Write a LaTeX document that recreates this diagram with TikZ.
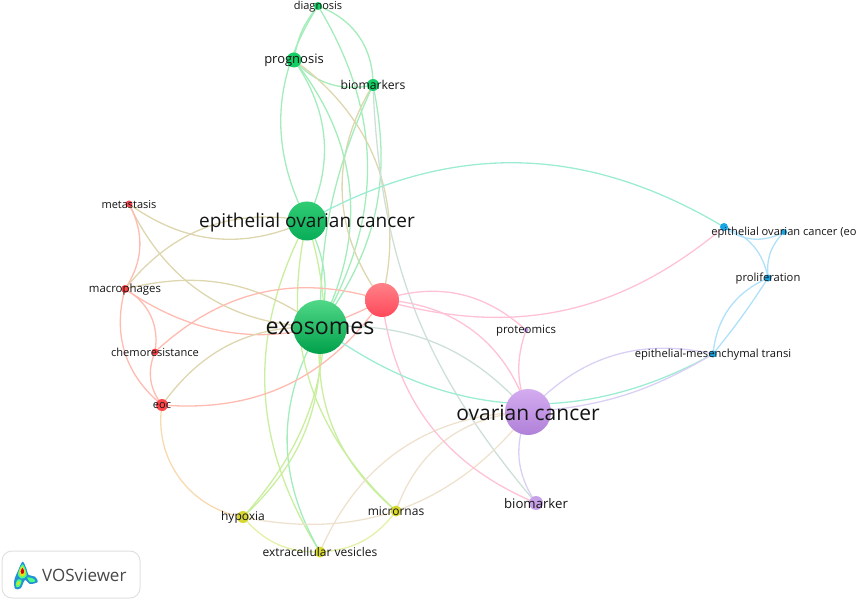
\documentclass[tikz,border=0pt]{standalone}
\usepackage{fontspec}
\setmainfont{Open Sans}
\usetikzlibrary{backgrounds}

% link colours
\definecolor{lgreen}{HTML}{A2EDBA}
\definecolor{lred}{HTML}{FFBBB0}
\definecolor{lolive}{HTML}{DED6AE}
\definecolor{lteal}{HTML}{9CECD4}
\definecolor{lblue}{HTML}{B0E1FA}
\definecolor{lpink}{HTML}{FFC2D4}
\definecolor{llav}{HTML}{DAD0F5}
\definecolor{lyellow}{HTML}{E3F1A6}
\definecolor{lsand}{HTML}{EEE2CE}
\definecolor{lorange}{HTML}{F8DAB0}
\definecolor{lgrey}{HTML}{CDE0D8}
\definecolor{llime}{HTML}{C9EE9E}

\tikzset{
    term/.style={circle, inner sep=0, minimum size=#1},
    lab/.style={inner sep=0, yshift={-(#1-8)*0.1pt}, text=black!92, font=\fontsize{#1}{#1}\selectfont},
    link/.style={line width=1.3pt},
    grn/.style={fill={rgb,255:red,20;green,205;blue,100}},
    rdd/.style={fill={rgb,255:red,255;green,70;blue,75}},
    blu/.style={fill={rgb,255:red,25;green,165;blue,230}},
    yel/.style={fill={rgb,255:red,216;green,216;blue,50}},
    pur/.style={fill={rgb,255:red,200;green,160;blue,232}},
}

\begin{document}
\begin{tikzpicture}[x=1pt, y=-1pt]
\useasboundingbox (0,0) rectangle (858,601);

% Green cluster
\node[term=8, grn] (diagnosis) at (318,6) {};
\node[term=15, grn] (prognosis) at (294,60) {};
\node[term=12, grn] (biomarkers) at (373,85) {};
\node[term=39, top color={rgb,255:red,48;green,204;blue,116}, bottom color={rgb,255:red,8;green,172;blue,88}] (epithelial) at (307,221) {};
\node[term=54, top color={rgb,255:red,80;green,216;blue,136}, bottom color={rgb,255:red,0;green,160;blue,74}] (exosomes) at (320,327) {};

% Red cluster
\node[term=34, top color={rgb,255:red,255;green,130;blue,136}, bottom color={rgb,255:red,255;green,72;blue,90}] (redhub) at (382,300) {};
\node[term=7, rdd] (metastasis) at (129,204) {};
\node[term=8, rdd] (macrophages) at (125,289) {};
\node[term=7, rdd] (chemoresistance) at (155,352) {};
\node[term=12, rdd] (eoc) at (162,405) {};

% Purple cluster
\node[term=46, top color={rgb,255:red,212;green,172;blue,240}, bottom color={rgb,255:red,176;green,128;blue,216}] (ovarian) at (528,412) {};
\node[term=5, pur] (proteomics) at (526,330) {};
\node[term=14, pur] (biomarker) at (536,503) {};

% Yellow cluster
\node[term=12, yel] (hypoxia) at (243,517) {};
\node[term=11, yel] (micrornas) at (396,511) {};
\node[term=11, yel] (vesicles) at (320,552) {};

% Blue cluster
\node[term=8, blu] (eoshort) at (724,227) {};
\node[term=6, blu] (eolabel) at (784,232) {};
\node[term=7, blu] (proliferation) at (768,278) {};
\node[term=7, blu] (emt) at (713,354) {};

% Links
\begin{scope}[on background layer]
\foreach \a/\b/\bend/\col in {
    diagnosis/prognosis/-15/lgreen, diagnosis/epithelial/-30/lgreen,
    diagnosis/biomarkers/35/lgreen, diagnosis/exosomes/31/lgreen,
    prognosis/biomarkers/-30/lgreen, prognosis/epithelial/30/lgreen,
    prognosis/exosomes/33/lgreen, prognosis/redhub/34/lolive,
    biomarkers/redhub/-34/lolive, biomarkers/exosomes/-12/lgreen,
    biomarkers/exosomes/24/lgreen, biomarkers/biomarker/-19/lgrey,
    epithelial/exosomes/20/lgreen, epithelial/vesicles/-30/llime,
    exosomes/vesicles/-30/lgreen, exosomes/hypoxia/25/llime,
    epithelial/hypoxia/30/llime, exosomes/micrornas/-27/llime,
    epithelial/micrornas/-30/llime, epithelial/eoshort/30/lteal,
    epithelial/metastasis/30/lolive, epithelial/macrophages/-31/lolive,
    exosomes/metastasis/32/lolive, exosomes/macrophages/-25/lolive,
    redhub/macrophages/32/lred, redhub/chemoresistance/-30/lred,
    redhub/eoc/30/lred, exosomes/eoc/-28/lolive,
    metastasis/macrophages/31/lred, macrophages/eoc/-33/lred,
    macrophages/chemoresistance/35/lred, chemoresistance/eoc/-30/lred,
    eoc/hypoxia/-45/lorange, ovarian/hypoxia/32/lsand,
    ovarian/vesicles/-33/lsand, ovarian/micrornas/-34/lsand,
    hypoxia/vesicles/-25/lyellow, micrornas/vesicles/25/lyellow,
    ovarian/biomarker/-29/llav, redhub/biomarker/-30/lpink,
    redhub/ovarian/35/lpink, redhub/proteomics/30/lpink,
    proteomics/ovarian/-20/lpink, redhub/eoshort/-28/lpink,
    exosomes/emt/-33/lteal, exosomes/ovarian/26/lgrey,
    ovarian/emt/30/llav, ovarian/emt/-13/llav,
    eoshort/eolabel/-33/lblue, eoshort/proliferation/30/lblue,
    eolabel/proliferation/-25/lblue, proliferation/emt/-30/lblue,
    proliferation/emt/3/lblue%
} {
    \draw[link, \col] (\a.center) to[bend left=\bend] (\b.center);
}
\end{scope}

% Labels
\node[lab=11] (diagnosis text) at (diagnosis) {diagnosis};
\node[lab=13] (prognosis text) at (prognosis) {prognosis};
\node[lab=12.2] (biomarkers text) at (biomarkers) {biomarkers};
\node[lab=19] (epithelial text) at (epithelial) {epithelial ovarian cancer};
\node[lab=23.2] (exosomes text) at (exosomes) {exosomes};
\node[lab=11] (metastasis text) at (metastasis) {metastasis};
\node[lab=11.4] (macrophages text) at (macrophages) {macrophages};
\node[lab=11.1] (chemoresistance text) at (chemoresistance) {chemoresistance};
\node[lab=11] (eoc text) at (eoc) {eoc};
\node[lab=21] (ovarian text) at (ovarian) {ovarian cancer};
\node[lab=11.4] (proteomics text) at (proteomics) {proteomics};
\node[lab=13.2] (biomarker text) at (biomarker) {biomarker};
\node[lab=12] (hypoxia text) at (hypoxia) {hypoxia};
\node[lab=12] (micrornas text) at (micrornas) {micrornas};
\node[lab=12] (vesicles text) at (vesicles) {extracellular vesicles};
\node[lab=11.1] (eolabel text) at (eolabel) {epithelial ovarian cancer (eo};
\node[lab=11.2] (proliferation text) at (proliferation) {proliferation};
\node[lab=11.2] (emt text) at (emt) {epithelial-mesenchymal transi};

% Logo box
\draw[black!12, line width=1pt, rounded corners=10] (2,551) rectangle (140,598);
\begin{scope}[shift={(0,520)}, x=0.3333pt, y=-0.3333pt]
\fill[cyan!70!blue!90] plot[smooth cycle] coordinates {(68,125) (80,148) (86,165) (105,170) (113,186) (90,192) (75,180) (62,205) (45,206) (43,180) (55,150)};
\fill[green!70!cyan!70] plot[smooth cycle] coordinates {(68,133) (77,150) (80,168) (65,176) (54,165) (58,148)};
\fill[green!70!cyan!70] plot[smooth cycle] coordinates {(82,172) (100,176) (106,184) (90,186)};
\fill[green!70!cyan!70] plot[smooth cycle] coordinates {(55,178) (65,182) (58,200) (48,200) (48,188)};
\fill[yellow!90!black] plot[smooth cycle] coordinates {(67,139) (75,152) (75,165) (65,170) (58,160) (60,148)};
\fill[yellow!90!black] plot[smooth cycle] coordinates {(55,184) (60,186) (55,196) (50,194)};
\fill[red!85!black] plot[smooth cycle] coordinates {(67,144) (72,152) (71,160) (65,162) (62,155)};
\end{scope}
\node[inner sep=0, text=black!72, font=\fontsize{17}{17}\selectfont, anchor=west] (vosviewer) at (42,575) {VOSviewer};
\end{tikzpicture}
\end{document}
